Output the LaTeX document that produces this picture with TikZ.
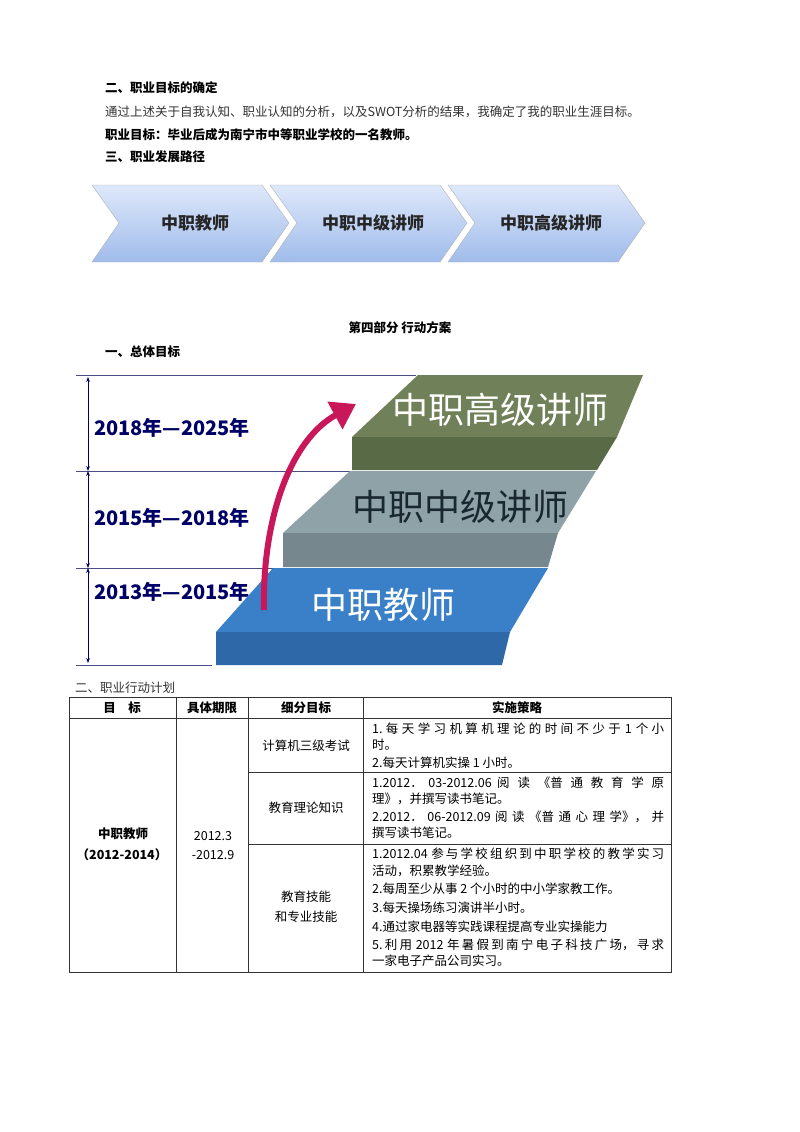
\documentclass[tikz,border=0pt]{standalone}
\usepackage{fontspec}
\setmainfont{Noto Sans CJK SC}
\usetikzlibrary{arrows.meta}
\newcommand{\jline}[1]{\parbox{292pt}{\XeTeXlinebreaklocale "zh"\XeTeXlinebreakskip=0pt plus 4pt\parfillskip=0pt\noindent #1}}
\begin{document}
\begin{tikzpicture}[x=1pt,y=-1pt,
  txt/.style={anchor=west,inner sep=0pt,font=\fontsize{12.5}{14}\selectfont},
  btxt/.style={anchor=west,inner sep=0pt,font=\fontsize{12.5}{14}\selectfont\bfseries},
  chev/.style={draw=gray!60,top color={rgb,255:red,222;green,232;blue,250},bottom color={rgb,255:red,160;green,188;blue,235}},
  chevtxt/.style={font=\fontsize{17}{19}\selectfont\bfseries,inner sep=0pt,text=black!85},
  yr/.style={anchor=west,inner sep=0pt,font=\fontsize{20}{22}\selectfont\bfseries,text=blue!40!black},
  rl/.style={draw=blue!30!black!70,line width=1pt},
  dim/.style={draw=blue!40!black,line width=0.8pt,{Stealth[length=5pt]}-{Stealth[length=5pt]}},
  cell/.style={inner sep=0pt,font=\fontsize{12.5}{14}\selectfont},
  tl/.style={draw=black!80,line width=0.9pt}]
\useasboundingbox (0,0) rectangle (800,1132);
\fill[white] (0,0) rectangle (800,1132);
% top text
\node[btxt] (h1) at (105,88) {二、职业目标的确定};
\node[txt,text=black!80] (p1) at (105,112) {通过上述关于自我认知、职业认知的分析，以及SWOT分析的结果，我确定了我的职业生涯目标。};
\node[btxt] (p2) at (105,135) {职业目标：毕业后成为南宁市中等职业学校的一名教师。};
\node[btxt] (h2) at (105,157) {三、职业发展路径};
% chevrons
\foreach \x/\t/\n in {92/中职教师/c1,270/中职中级讲师/c2,448/中职高级讲师/c3}{
  \path[chev] (\x,185) -- (\x+170,185) -- (\x+197,223) -- (\x+170,262) -- (\x,262) -- (\x+27,223) -- cycle;
  \node[chevtxt] (\n) at (\x+103,223) {\t};
}
% part four
\node[inner sep=0pt,font=\fontsize{12.5}{14}\selectfont\bfseries] (h3) at (400,328) {第四部分\ 行动方案};
\node[btxt] (h4) at (105,352) {一、总体目标};
% rules
\draw[rl] (76,375) -- (416,375);
\draw[rl] (76,471) -- (350,471);
\draw[rl] (76,568) -- (275,568);
\draw[rl] (76,665) -- (212,665);
\coordinate (d0) at (88,377); \coordinate (d1) at (88,471);
\coordinate (d2) at (88,568); \coordinate (d3) at (88,663);
\draw[dim] (d0) -- (d1); \draw[dim] (d1) -- (d2); \draw[dim] (d2) -- (d3);
\node[yr] (y3) at (94,428) {2018年—2025年};
\node[yr] (y2) at (94,518) {2015年—2018年};
\node[yr] (y1) at (94,592) {2013年—2015年};
% blue slab
\fill[color={rgb,255:red,58;green,128;blue,200}] (216,632) -- (273,568) -- (548,568) -- (510,632) -- cycle;
\fill[color={rgb,255:red,46;green,104;blue,168}] (216,632) -- (510,632) -- (502,665) -- (216,665) -- cycle;
% gray slab
\fill[color={rgb,255:red,143;green,162;blue,168}] (283,533) -- (350,471) -- (596,471) -- (558,533) -- cycle;
\fill[color={rgb,255:red,118;green,136;blue,142}] (283,533) -- (558,533) -- (548,567) -- (283,567) -- cycle;
% green slab
\fill[color={rgb,255:red,112;green,128;blue,88}] (352,437) -- (418,375) -- (643,375) -- (617,437) -- cycle;
\fill[color={rgb,255:red,88;green,106;blue,70}] (352,437) -- (617,437) -- (597,470) -- (352,470) -- cycle;
\node[font=\fontsize{36}{38}\selectfont,text=white,inner sep=0pt] (s3) at (500,410) {中职高级讲师};
\node[font=\fontsize{36}{38}\selectfont,text={rgb,255:red,25;green,40;blue,48},inner sep=0pt] (s2) at (460,507) {中职中级讲师};
\node[font=\fontsize{36}{38}\selectfont,text=white,inner sep=0pt] (s1) at (383,605) {中职教师};
% magenta arrow
\coordinate (a0) at (264,610); \coordinate (a1) at (356,404);
\draw[line width=6pt,color={rgb,255:red,200;green,24;blue,90},-{Triangle[length=24pt,width=30pt]}]
  (a0) .. controls (262,520) and (290,440) .. (a1);
% table heading
\node[txt,text=black!80] (h5) at (75,688) {二、职业行动计划};
\draw[tl] (69,697) rectangle (671,972);
\draw[tl] (69,718) -- (671,718);
\draw[tl] (176,697) -- (176,972);
\draw[tl] (248,697) -- (248,972);
\draw[tl] (363,697) -- (363,972);
\draw[tl] (248,772) -- (671,772);
\draw[tl] (248,844) -- (671,844);
\node[cell,font=\fontsize{12.5}{14}\selectfont\bfseries] (t1) at (122,708) {目\quad 标};
\node[cell,font=\fontsize{12.5}{14}\selectfont\bfseries] (t2) at (212,708) {具体期限};
\node[cell,font=\fontsize{12.5}{14}\selectfont\bfseries] (t3) at (306,708) {细分目标};
\node[cell,font=\fontsize{12.5}{14}\selectfont\bfseries] (t4) at (517,708) {实施策略};
\node[cell,font=\fontsize{12.5}{14}\selectfont\bfseries] (c1a) at (123,834) {中职教师};
\node[cell,font=\fontsize{12.5}{14}\selectfont\bfseries] (c1b) at (122,855) {（2012-2014）};
\node[cell] (c2a) at (213,836) {2012.3};
\node[cell] (c2b) at (213,855) {-2012.9};
\node[cell] (r1) at (306,746) {计算机三级考试};
\node[cell] (r2) at (306,808) {教育理论知识};
\node[cell] (r3a) at (306,897) {教育技能};
\node[cell] (r3b) at (306,917) {和专业技能};
\foreach \y/\t in {729/{1.每天学习机算机理论的时间不少于 1 个小},783/{1.2012． 03-2012.06 阅读《普通教育学原},817/{2.2012．06-2012.09 阅读《普通心理学》，并},854/{1.2012.04 参与学校组织到中职学校的教学实习},945/{5.利用 2012 年暑假到南宁电子科技广场，寻求}}{
  \node[cell,anchor=west] at (372,\y) {\jline{\t}};
}
\foreach \y/\t in {745/时。,763/2.每天计算机实操 1 小时。,
  799/理》，并撰写读书笔记。,833/撰写读书笔记。,
  871/活动，积累教学经验。,889/2.每周至少从事 2 个小时的中小学家教工作。,908/3.每天操场练习演讲半小时。,927/4.通过家电器等实践课程提高专业实操能力,961/一家电子产品公司实习。}{
  \node[cell,anchor=west] at (372,\y) {\t};
}
\end{tikzpicture}
\end{document}
